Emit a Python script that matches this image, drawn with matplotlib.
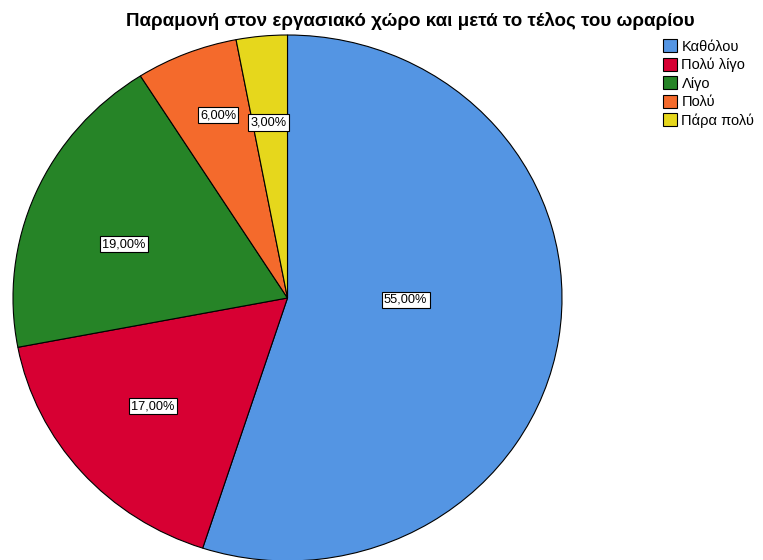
import numpy as np
import matplotlib
matplotlib.use("Agg")
import matplotlib.pyplot as plt
from matplotlib.patches import Patch

title = "Παραμονή στον εργασιακό χώρο και μετά το τέλος του ωραρίου"
categories = ["Καθόλου", "Πολύ λίγο", "Λίγο", "Πολύ", "Πάρα πολύ"]
percent = [55.0, 17.0, 19.0, 6.0, 3.0]
colors = ["#5495E3", "#D70033", "#268427", "#F46A2C", "#E6D71C"]
# label placement (fraction of radius, angle in degrees)
label_radius = [0.43, 0.64, 0.63, 0.74, 0.67]
label_angle = [-1.0, -140.0, 161.0, 110.0, 96.0]

W, H = 763, 560
fig = plt.figure(figsize=(W / 100, H / 100), dpi=100)
plt.rcParams["font.family"] = ["Liberation Sans", "DejaVu Sans"]

# pie axes: slightly wider than tall, extends to bottom edge
left, right, top, bottom = 13, 562, 35, 561
ax = fig.add_axes([left / W, (H - bottom) / H, (right - left) / W, (bottom - top) / H])
wedges, _ = ax.pie(percent, colors=colors, startangle=90, counterclock=False,
                   wedgeprops=dict(edgecolor="black", linewidth=0.8))
ax.set_aspect("auto")
ax.set_xlim(-1, 1)
ax.set_ylim(-1, 1)
ax.axis("off")
for w in wedges:
    w.set_clip_on(False)

for p, r, a in zip(percent, label_radius, label_angle):
    t = np.deg2rad(a)
    ax.text(r * np.cos(t), r * np.sin(t), f"{p:.2f}%".replace(".", ","),
            ha="center", va="center", fontsize=9.2,
            bbox=dict(boxstyle="square,pad=0.18", facecolor="white",
                      edgecolor="black", linewidth=0.8))

fig.text(410 / W, 1 - 21 / H, title, ha="center", va="center",
         fontsize=13.5, fontweight="bold")

handles = [Patch(facecolor=c, edgecolor="black", linewidth=0.8) for c in colors]
fig.legend(handles, categories, loc="upper left", bbox_to_anchor=(653 / W, 1 - 29 / H),
           frameon=False, fontsize=10.5, handlelength=0.95, handleheight=1.0,
           handletextpad=0.3, labelspacing=0.27, borderpad=0.2)

fig.savefig("out.png", dpi=100)
